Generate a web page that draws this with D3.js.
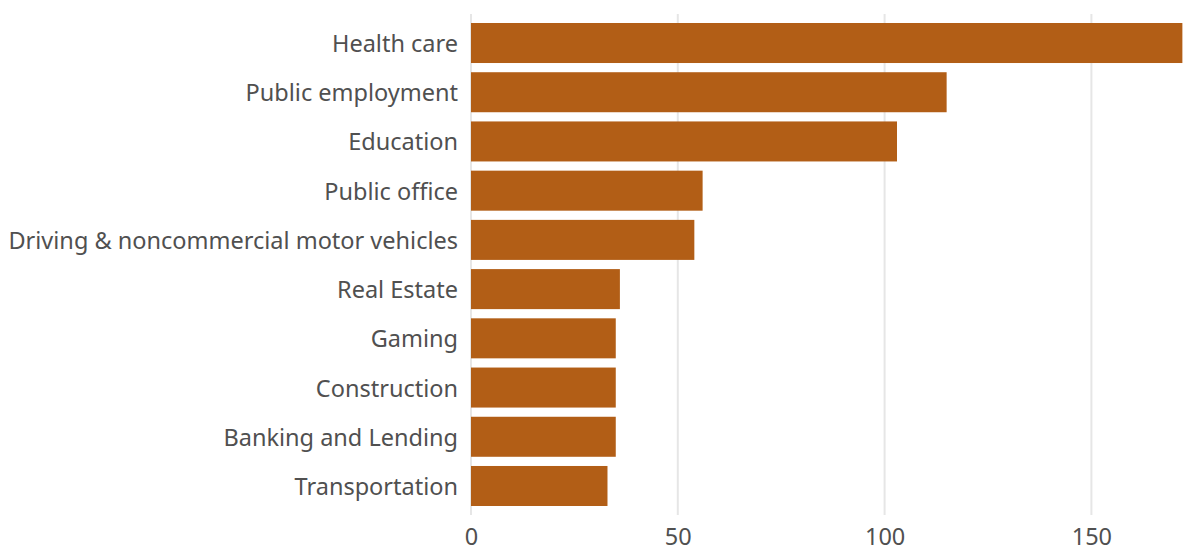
<!DOCTYPE html>
<html>
<head>
<meta charset="utf-8">
<script src="https://cdn.jsdelivr.net/npm/d3@7"></script>
<style>
  body { margin: 0; background: #fff; }
  .tick text { font-family: "Noto Sans", sans-serif; }
</style>
</head>
<body>
<div id="chart"></div>
<script>
var categories = ['Health care', 'Public employment', 'Education', 'Public office',
    'Driving & noncommercial motor vehicles', 'Real Estate', 'Gaming',
    'Construction', 'Banking and Lending', 'Transportation'];
var values = [172, 115, 103, 56, 54, 36, 35, 35, 35, 33];
var xTicks = [0, 50, 100, 150];

var width = 1183, height = 548;
var margin = {top: 18.4, right: 0, bottom: 37.4, left: 471};

var svg = d3.select('#chart')
    .append('svg')
    .attr('width', width)
    .attr('height', height);

var xScale = d3.scaleLinear()
    .domain([0, 172.15])
    .range([margin.left, width]);

var yScale = d3.scaleBand()
    .domain(categories)
    .range([margin.top, height - margin.bottom])
    .paddingInner(0.187)
    .paddingOuter(0.0935);

// gridlines
svg.append('g')
    .selectAll('line')
    .data(xTicks)
    .enter().append('line')
    .attr('x1', function(d) { return xScale(d); })
    .attr('x2', function(d) { return xScale(d); })
    .attr('y1', 14)
    .attr('y2', 515)
    .attr('stroke', '#e6e6e6')
    .attr('stroke-width', 2);

svg.append('g')
    .selectAll('rect')
    .data(values)
    .enter().append('rect')
    .attr('x', xScale(0))
    .attr('y', function(d, i) { return yScale(categories[i]); })
    .attr('width', function(d) { return xScale(d) - xScale(0); })
    .attr('height', yScale.bandwidth())
    .attr('fill', '#b25e16');

var yAxis = d3.axisLeft(yScale).tickSize(0).tickPadding(13);
svg.append('g')
    .attr('transform', 'translate(' + margin.left + ',1.5)')
    .call(yAxis)
    .call(function(g) { g.select('.domain').remove(); })
    .selectAll('text')
    .attr('font-size', 23.5)
    .attr('fill', '#505050');

var xAxis = d3.axisBottom(xScale).tickValues(xTicks).tickSize(0).tickPadding(13);
svg.append('g')
    .attr('transform', 'translate(0,515)')
    .call(xAxis)
    .call(function(g) { g.select('.domain').remove(); })
    .selectAll('text')
    .attr('font-size', 23.5)
    .attr('fill', '#505050');
</script>
</body>
</html>
